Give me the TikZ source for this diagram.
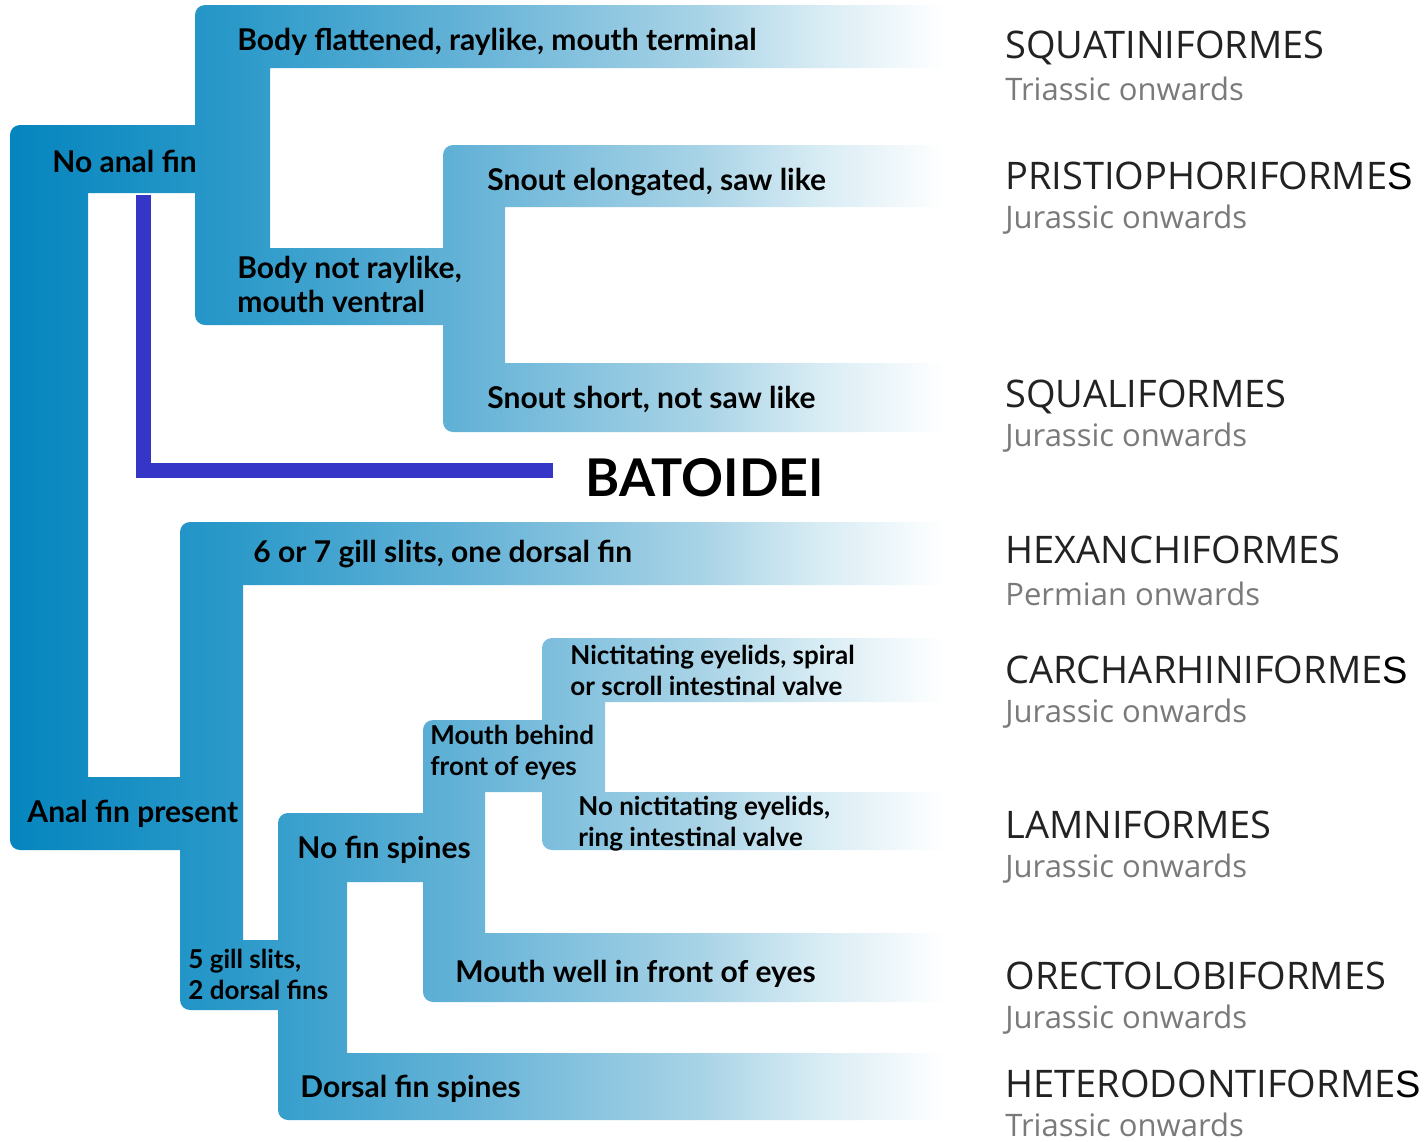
\documentclass[tikz,border=0pt]{standalone}
\usepackage{fontspec}
\setmainfont{Lato}
\newfontfamily\ordfont{Open Sans}
\newfontfamily\patchfont{Liberation Sans}

\definecolor{fadeA}{HTML}{0585BE}
\definecolor{fadeB}{HTML}{2A99C9}
\definecolor{fadeC}{HTML}{66B3D7}
\definecolor{fadeD}{HTML}{A8D3E6}
\definecolor{fadeE}{HTML}{D8ECF4}
\definecolor{ordgray}{HTML}{222222}
\definecolor{agegray}{HTML}{7A7A7A}
\definecolor{batblue}{HTML}{3535C8}

\pgfdeclarehorizontalshading{cladefade}{100bp}{color(0bp)=(fadeA); color(25bp)=(fadeA); color(36.8bp)=(fadeB); color(49.6bp)=(fadeC); color(61.9bp)=(fadeD); color(68.3bp)=(fadeE); color(75bp)=(white); color(100bp)=(white)}

\newcommand{\lastS}{{\color{black}\patchfont S}}

\begin{document}
\begin{tikzpicture}[
    x=0.5pt, y=-0.5pt,
    cladebar/.style={shading=cladefade, draw=none},
    keytext/.style={anchor=base west, inner sep=0pt, font=\bfseries\fontsize{15}{17}\selectfont, align=left},
    keytwo/.style={keytext, anchor=north west},
    keysmall/.style={keytext, anchor=north west, font=\bfseries\fontsize{13}{15.5}\selectfont},
    ordname/.style={anchor=base west, inner sep=0pt, text=ordgray, font=\ordfont\fontsize{19}{22}\selectfont},
    ordage/.style={anchor=base west, inner sep=0pt, text=agegray, font=\ordfont\fontsize{15.5}{18}\selectfont},
    batline/.style={line width=7.5pt, draw=batblue},
]
    \fill[white] (0,0) rectangle (1424,1141);

    % branches of the key
    \shade[cladebar]
        [rounded corners=5pt] (10,125) rectangle (88,850)
        [sharp corners] (20,125) rectangle (200,193) (20,777) rectangle (243,850)
        [rounded corners=5pt] (195,5) rectangle (270,325)
        [sharp corners] (205,5) rectangle (945,68) (205,248) rectangle (450,325)
        [rounded corners=5pt] (443,145) rectangle (505,432)
        [sharp corners] (453,145) rectangle (945,207) (453,363) rectangle (945,432)
        [rounded corners=5pt] (180,522) rectangle (243,1010)
        [sharp corners] (190,522) rectangle (945,585) (190,940) rectangle (285,1010)
        [rounded corners=5pt] (278,813) rectangle (347,1120)
        [sharp corners] (288,813) rectangle (430,882) (288,1053) rectangle (945,1120)
        [rounded corners=5pt] (423,720) rectangle (485,1002)
        [sharp corners] (433,720) rectangle (545,792) (433,933) rectangle (945,1002)
        [rounded corners=5pt] (542,638) rectangle (605,850)
        [sharp corners] (552,638) rectangle (945,702) (552,792) rectangle (945,850);

    % key labels
    \node[keytext] (noanal) at (52,172) {No anal fin};
    \node[keytext] (flat) at (237,50) {Body flattened, raylike, mouth terminal};
    \node[keytwo] (notray) at (237,256) {Body not raylike,\\mouth ventral};
    \node[keytext] (sawlike) at (487,190) {Snout elongated, saw like};
    \node[keytext] (short) at (487,408) {Snout short, not saw like};
    \node[keytext] (anal) at (27,822) {Anal fin present};
    \node[keytext] (sixgill) at (253,562) {6 or 7 gill slits, one dorsal fin};
    \node[keysmall] (fivegill) at (188,949) {5 gill slits,\\2 dorsal fins};
    \node[keytext] (nospine) at (297,858) {No fin spines};
    \node[keytext] (spine) at (300,1097) {Dorsal fin spines};
    \node[keysmall] (behind) at (430,725) {Mouth behind\\front of eyes};
    \node[keytext] (wellfront) at (455,982) {Mouth well in front of eyes};
    \node[keysmall] (nict) at (570,645) {Nictitating eyelids, spiral\\or scroll intestinal valve};
    \node[keysmall] (nonict) at (578,796) {No nictitating eyelids,\\ring intestinal valve};

    % orders
    \node[ordname] (squat) at (1005,58) {SQUATINIFORMES};
    \node[ordage] (squatage) at (1005,100) {Triassic onwards};
    \node[ordname] (pristio) at (1005,189) {PRISTIOPHORIFORME\lastS};
    \node[ordage] (pristioage) at (1005,228) {Jurassic onwards};
    \node[ordname] (squali) at (1005,407) {SQUALIFORMES};
    \node[ordage] (squaliage) at (1005,446) {Jurassic onwards};
    \node[ordname] (hexan) at (1005,563) {HEXANCHIFORMES};
    \node[ordage] (hexanage) at (1005,605) {Permian onwards};
    \node[ordname] (carch) at (1005,683) {CARCHARHINIFORME\lastS};
    \node[ordage] (carchage) at (1005,722) {Jurassic onwards};
    \node[ordname] (lamni) at (1005,838) {LAMNIFORMES};
    \node[ordage] (lamniage) at (1005,877) {Jurassic onwards};
    \node[ordname] (orecto) at (1005,989) {ORECTOLOBIFORMES};
    \node[ordage] (orectoage) at (1005,1028) {Jurassic onwards};
    \node[ordname] (hetero) at (1005,1097) {HETERODONTIFORME\lastS};
    \node[ordage] (heteroage) at (1005,1136) {Triassic onwards};

    % rays
    \node[anchor=west, inner xsep=16pt, inner ysep=0pt, font=\bfseries\fontsize{26}{28}\selectfont] (batoidei) at (553,478) {BATOIDEI};
    \coordinate (batstart) at (143,195);
    \draw[batline] (batstart) |- ([yshift=4pt]batoidei.west);
\end{tikzpicture}
\end{document}
